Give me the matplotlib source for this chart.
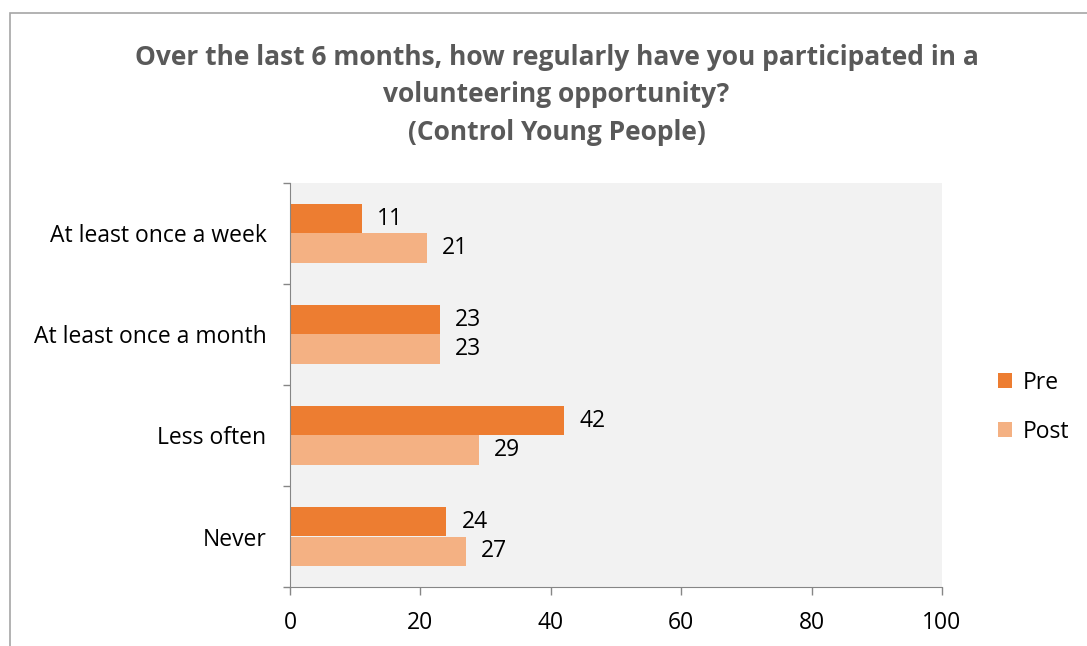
import numpy as np
import matplotlib.pyplot as plt
from matplotlib.patches import Rectangle

categories = ['At least once a week', 'At least once a month', 'Less often', 'Never']
pre = [11, 23, 42, 24]
post = [21, 23, 29, 27]
x_ticks = [0, 20, 40, 60, 80, 100]

plt.rcParams['font.family'] = ['Open Sans', 'DejaVu Sans']

fig = plt.figure(figsize=(10.87, 6.46), dpi=100)
# outer chart border (right/bottom cut off in the original)
fig.patches.append(Rectangle((10 / 1087, -0.1), 1.2, 1 - 13 / 646 + 0.1,
                             transform=fig.transFigure, fill=False,
                             edgecolor='#a6a6a6', linewidth=1.2))

ax = fig.add_axes([290 / 1087, 1 - 587 / 646, 652 / 1087, 404 / 646])
ax.set_facecolor('#f2f2f2')

y = np.arange(len(categories))
h = 0.29
b1 = ax.barh(y - h / 2, pre, height=h, color='#ed7d31', label='Pre')
b2 = ax.barh(y + h / 2, post, height=h, color='#f4b183', label='Post')
ax.bar_label(b1, padding=11, fontsize=16.5)
ax.bar_label(b2, padding=11, fontsize=16.5)

ax.set_xlim(0, 100)
ax.set_ylim(3.5, -0.5)
ax.set_xticks(x_ticks)
ax.set_yticks(y)
ax.set_yticklabels(categories)
ax.set_yticks(np.arange(-0.5, 4, 1), minor=True)
ax.tick_params(axis='y', which='major', length=0, pad=17, labelsize=16.5)
ax.tick_params(axis='y', which='minor', length=5, color='#868686', width=1)
ax.tick_params(axis='x', length=6, color='#868686', width=1, labelsize=16.5, pad=11)

for s in ['top', 'right']:
    ax.spines[s].set_visible(False)
for s in ['left', 'bottom']:
    ax.spines[s].set_color('#868686')

ax.legend(loc='center left', bbox_to_anchor=(1.055, 0.445), frameon=False,
          fontsize=16.5, handlelength=0.6, handleheight=0.6, labelspacing=1.1,
          handletextpad=0.45)

fig.text(0.512, 1 - 95 / 646, 'Over the last 6 months, how regularly have you participated in a\n'
         'volunteering opportunity?\n(Control Young People)',
         ha='center', va='center', fontsize=19, fontweight='bold',
         color='#595959', linespacing=1.5)

fig.savefig('out.png', dpi=100)
